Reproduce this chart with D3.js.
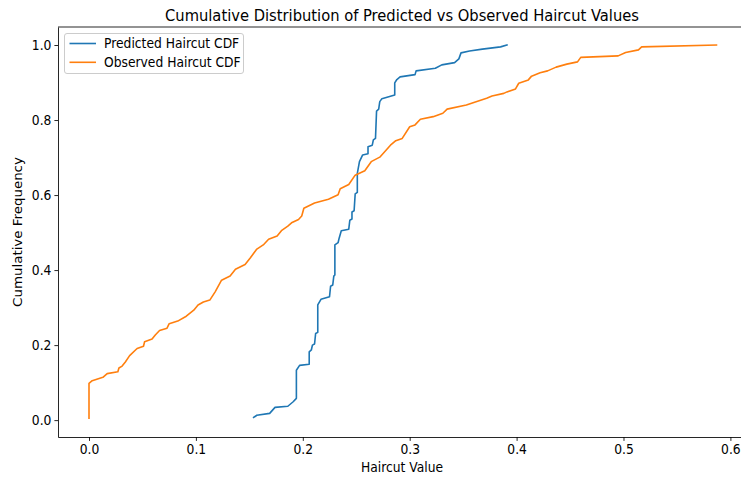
<!DOCTYPE html>
<html>
<head>
<meta charset="utf-8">
<script src="https://cdn.jsdelivr.net/npm/d3@7"></script>
<style>
  body { margin: 0; background: #fff; }
  svg { display: block; }
</style>
</head>
<body>
<div id="main"></div>
<script>
// values (cdf vertices)
const predX = [0.154, 0.157, 0.169, 0.174, 0.186, 0.191, 0.194, 0.194, 0.197, 0.206, 0.206, 0.208, 0.209, 0.211,
  0.212, 0.214, 0.214, 0.217, 0.225, 0.226, 0.228, 0.229, 0.230, 0.230, 0.233, 0.234, 0.236, 0.243, 0.244,
  0.246, 0.246, 0.248, 0.249, 0.251, 0.251, 0.253, 0.256, 0.261, 0.261, 0.265, 0.266, 0.268, 0.269, 0.271,
  0.272, 0.274, 0.286, 0.286, 0.288, 0.291, 0.305, 0.306, 0.324, 0.330, 0.342, 0.346, 0.348, 0.356, 0.368,
  0.385, 0.391];
const predY = [0.007, 0.013, 0.018, 0.034, 0.037, 0.049, 0.058, 0.133, 0.146, 0.149, 0.182, 0.187, 0.200, 0.203,
  0.231, 0.234, 0.307, 0.322, 0.329, 0.357, 0.360, 0.384, 0.387, 0.467, 0.473, 0.485, 0.505, 0.509, 0.533,
  0.536, 0.555, 0.558, 0.603, 0.607, 0.658, 0.689, 0.707, 0.710, 0.729, 0.733, 0.747, 0.751, 0.824, 0.829,
  0.849, 0.857, 0.867, 0.899, 0.908, 0.915, 0.921, 0.931, 0.938, 0.947, 0.953, 0.963, 0.979, 0.984, 0.989,
  0.995, 1.000];

const obsX = [0.000, 0.000, 0.003, 0.013, 0.017, 0.027, 0.028, 0.031, 0.034, 0.038, 0.045, 0.051, 0.052, 0.059,
  0.062, 0.066, 0.073, 0.075, 0.083, 0.091, 0.098, 0.102, 0.107, 0.113, 0.118, 0.124, 0.132, 0.137, 0.146,
  0.151, 0.157, 0.163, 0.168, 0.176, 0.180, 0.186, 0.190, 0.196, 0.199, 0.201, 0.211, 0.224, 0.233, 0.235,
  0.243, 0.249, 0.258, 0.264, 0.272, 0.282, 0.287, 0.293, 0.300, 0.305, 0.310, 0.322, 0.331, 0.335, 0.353,
  0.360, 0.372, 0.377, 0.388, 0.391, 0.399, 0.402, 0.411, 0.414, 0.422, 0.429, 0.437, 0.447, 0.457, 0.460,
  0.495, 0.502, 0.514, 0.517, 0.587];
const obsY = [0.005, 0.098, 0.105, 0.114, 0.124, 0.129, 0.139, 0.144, 0.155, 0.172, 0.191, 0.197, 0.209, 0.216,
  0.227, 0.239, 0.245, 0.257, 0.264, 0.277, 0.293, 0.307, 0.315, 0.320, 0.342, 0.373, 0.384, 0.402, 0.415,
  0.433, 0.456, 0.467, 0.482, 0.491, 0.505, 0.517, 0.527, 0.535, 0.544, 0.565, 0.579, 0.589, 0.601, 0.617,
  0.628, 0.653, 0.665, 0.689, 0.701, 0.733, 0.745, 0.751, 0.782, 0.787, 0.802, 0.809, 0.818, 0.829, 0.840,
  0.847, 0.858, 0.864, 0.871, 0.875, 0.883, 0.898, 0.907, 0.917, 0.926, 0.931, 0.941, 0.949, 0.955, 0.967,
  0.971, 0.980, 0.987, 0.995, 1.000];

const xTicks = [0.0, 0.1, 0.2, 0.3, 0.4, 0.5, 0.6];
const yTicks = [0.0, 0.2, 0.4, 0.6, 0.8, 1.0];
const seriesNames = ["Predicted Haircut CDF", "Observed Haircut CDF"];
const colors = ["#1f77b4", "#ff7f0e"];

const W = 741, H = 479;
const box = {left: 58, top: 27, right: 747.5, bottom: 437};
const sx = 0.92; // text in the picture is a bit squeezed sideways
const font = "'DejaVu Sans', sans-serif";
const fs = 13.4, titleFs = 16;

let x = d3.scaleLinear()
	.domain([-0.029, 0.616])
	.range([box.left, box.right]);

let y = d3.scaleLinear()
	.domain([-0.045, 1.048])
	.range([box.bottom, box.top]);

let svg = d3.select("#main")
	.append("svg")
		.attr("width", W)
		.attr("height", H);

svg.append("rect")
	.attr("width", W).attr("height", H)
	.attr("fill", "#fff");

// lines
const series = [
	predX.map((v, i) => [v, predY[i]]),
	obsX.map((v, i) => [v, obsY[i]])
];
const line = d3.line()
	.x(d => x(d[0]))
	.y(d => y(d[1]));

svg.append("g")
	.selectAll("path")
	.data(series)
	.enter()
	.append("path")
		.attr("d", line)
		.attr("fill", "none")
		.attr("stroke", (d, i) => colors[i])
		.attr("stroke-width", 1.6)
		.attr("stroke-linejoin", "round")
		.attr("stroke-linecap", "square");

// axes
let xAxis = svg.append("g")
	.attr("transform", `translate(0,${box.bottom})`)
	.call(d3.axisBottom(x).tickValues(xTicks).tickSize(3.9).tickPadding(3.6).tickSizeOuter(0).tickFormat(d3.format(".1f")));

let yAxis = svg.append("g")
	.attr("transform", `translate(${box.left},0)`)
	.call(d3.axisLeft(y).tickValues(yTicks).tickSize(3.6).tickPadding(3.6).tickSizeOuter(0).tickFormat(d3.format(".1f")));

[xAxis, yAxis].forEach(g => {
	g.attr("font-family", font).attr("font-size", fs);
	g.select(".domain").attr("stroke", "#000").attr("stroke-width", 0.85);
	g.selectAll(".tick line").attr("stroke", "#000").attr("stroke-width", 0.85);
	g.selectAll(".tick text").attr("fill", "#000").attr("transform", `scale(${sx},1)`);
});

// top spine (right one is outside the picture)
svg.append("line")
	.attr("x1", box.left).attr("x2", box.right)
	.attr("y1", box.top).attr("y2", box.top)
	.attr("stroke", "#000").attr("stroke-width", 0.85);

// title and labels
svg.append("text")
	.attr("transform", `translate(402,21) scale(${sx},1)`)
	.attr("text-anchor", "middle")
	.attr("font-family", font).attr("font-size", titleFs)
	.text("Cumulative Distribution of Predicted vs Observed Haircut Values");

svg.append("text")
	.attr("transform", `translate(402,472) scale(${sx},1)`)
	.attr("text-anchor", "middle")
	.attr("font-family", font).attr("font-size", fs)
	.text("Haircut Value");

svg.append("text")
	.attr("transform", `translate(22,232) rotate(-90) scale(1,${sx})`)
	.attr("text-anchor", "middle")
	.attr("font-family", font).attr("font-size", fs)
	.text("Cumulative Frequency");

// legend
let legend = svg.append("g")
	.attr("transform", "translate(64,33)");

legend.append("rect")
	.attr("x", 0.5).attr("y", 0.5)
	.attr("width", 179).attr("height", 40)
	.attr("rx", 2.5)
	.attr("fill", "#fff").attr("fill-opacity", 0.8)
	.attr("stroke", "#ccc");

let items = legend.selectAll("g.item")
	.data(seriesNames)
	.enter()
	.append("g")
		.attr("class", "item")
		.attr("transform", (d, i) => `translate(0,${10.5 + i * 18.8})`);

items.append("line")
	.attr("x1", 5.5).attr("x2", 32)
	.attr("stroke", (d, i) => colors[i])
	.attr("stroke-width", 1.6);

items.append("text")
	.attr("transform", `translate(40,4.6) scale(${sx},1)`)
	.attr("font-family", font).attr("font-size", fs)
	.text(d => d);
</script>
</body>
</html>
